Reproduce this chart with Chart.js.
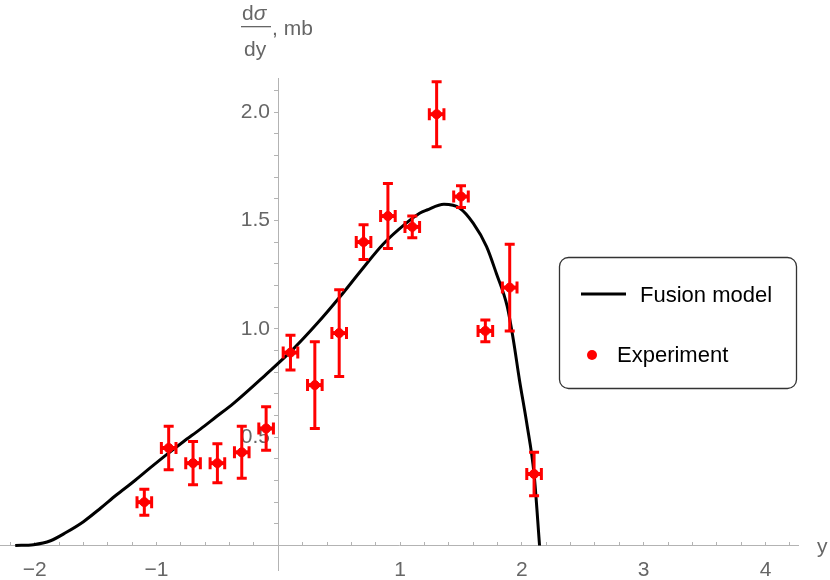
<!DOCTYPE html>
<html>
<head>
<meta charset="utf-8">
<script src="https://cdn.jsdelivr.net/npm/chart.js@4.4.1/dist/chart.umd.min.js"></script>
<style>
  html, body { margin: 0; padding: 0; background: #fff; }
  canvas { display: block; }
</style>
</head>
<body>
<canvas id="chart" width="830" height="580"></canvas>
<script>
// --- DATA ---
// experimental points (bin centres, value, vertical error, horizontal half-width)
const expX   = [-1.1, -0.9, -0.7, -0.5, -0.3, -0.1, 0.1, 0.3, 0.5, 0.7, 0.9, 1.1, 1.3, 1.5, 1.7, 1.9, 2.1];
const expY   = [0.20, 0.45, 0.38, 0.38, 0.43, 0.54, 0.89, 0.74, 0.98, 1.40, 1.52, 1.47, 1.99, 1.61, 0.99, 1.19, 0.33];
const expErr = [0.06, 0.10, 0.10, 0.09, 0.12, 0.10, 0.08, 0.20, 0.20, 0.08, 0.15, 0.05, 0.15, 0.05, 0.05, 0.20, 0.10];
const expXErr = [0.06, 0.06, 0.06, 0.06, 0.06, 0.06, 0.06, 0.06, 0.06, 0.06, 0.06, 0.06, 0.06, 0.06, 0.06, 0.06, 0.06];

// fusion model curve
const modelX = [-2.16, -2.01, -1.87, -1.74, -1.60, -1.46, -1.33, -1.19, -1.05, -0.92, -0.78, -0.64, -0.51, -0.37,
                -0.10, 0.12, 0.32, 0.51, 0.67, 0.86, 1.05, 1.16, 1.22, 1.36, 1.49, 1.60, 1.71, 1.79, 1.88,
                1.93, 1.98, 2.04, 2.10, 2.145];
const modelY = [0.00, 0.004, 0.022, 0.061, 0.110, 0.172, 0.233, 0.294, 0.359, 0.418, 0.479, 0.537, 0.594, 0.655,
                0.79, 0.905, 1.025, 1.15, 1.262, 1.39, 1.487, 1.533, 1.548, 1.574, 1.556, 1.487, 1.379, 1.256, 1.102,
                0.948, 0.764, 0.564, 0.33, 0.00];

// tick labels
const xTickLabels = [-2, -1, 1, 2, 3, 4];
const yTickLabels = [0.5, 1.0, 1.5, 2.0];

const GRAY = "#666666";
const AXIS = "#b3b3b3";
const FONT = "'Liberation Sans', Arial, sans-serif";

function minorTicks(from, to, step) {
    const out = [];
    for (let v = from; v <= to + 1e-9; v += step) out.push({ value: Math.round(v * 100) / 100 });
    return out;
}

// axes sit inside the plot, so they must not eat layout space
function noSpace(scale) {
    if (scale.isHorizontal()) scale.height = 0; else scale.width = 0;
    scale.paddingLeft = scale.paddingRight = scale.paddingTop = scale.paddingBottom = 0;
}

// --- ERROR BARS ---
const errorBars = {
    id: "errorBars",
    afterDatasetsDraw(chart) {
        const ctx = chart.ctx;
        const xs = chart.scales.x, ys = chart.scales.y;
        ctx.save();
        ctx.strokeStyle = "#ff0000";
        expX.forEach((x, i) => {
            const px = xs.getPixelForValue(x);
            const py = ys.getPixelForValue(expY[i]);
            const top = ys.getPixelForValue(expY[i] + expErr[i]);
            const bot = ys.getPixelForValue(expY[i] - expErr[i]);
            const left = xs.getPixelForValue(x - expXErr[i]);
            const right = xs.getPixelForValue(x + expXErr[i]);
            ctx.lineWidth = 3;
            ctx.beginPath();
            ctx.moveTo(px, top); ctx.lineTo(px, bot);
            ctx.moveTo(px - 5, top); ctx.lineTo(px + 5, top);
            ctx.moveTo(px - 5, bot); ctx.lineTo(px + 5, bot);
            ctx.moveTo(left, py - 6); ctx.lineTo(left, py + 6);
            ctx.moveTo(right, py - 6); ctx.lineTo(right, py + 6);
            ctx.stroke();
            ctx.lineWidth = 4;
            ctx.beginPath();
            ctx.moveTo(left, py); ctx.lineTo(right, py);
            ctx.stroke();
        });
        ctx.restore();
    }
};

// --- AXIS TITLES + LEGEND ---
const decorations = {
    id: "decorations",
    afterDraw(chart) {
        const ctx = chart.ctx;
        ctx.save();
        ctx.fillStyle = GRAY;
        ctx.font = "21px " + FONT;
        ctx.textBaseline = "alphabetic";

        // y axis title: dσ/dy, mb
        ctx.textAlign = "left";
        const dW = ctx.measureText("d").width;
        ctx.fillText("d", 242, 20);
        ctx.font = "italic 21px " + FONT;
        ctx.fillText("\u03C3", 242 + dW, 20);
        ctx.font = "21px " + FONT;
        ctx.fillText("dy", 244, 56);
        ctx.fillRect(241, 26, 30, 1.3);
        ctx.fillText(", mb", 272, 35);

        // x axis title
        ctx.fillText("y", 817, 553);

        // legend box
        ctx.strokeStyle = "#333333";
        ctx.lineWidth = 1.3;
        ctx.beginPath();
        ctx.roundRect(559.5, 257.5, 237, 131, 9);
        ctx.stroke();

        const [expSet, modelSet] = chart.data.datasets;
        ctx.strokeStyle = "#000";
        ctx.lineWidth = 3;
        ctx.beginPath();
        ctx.moveTo(581, 294); ctx.lineTo(626, 294);
        ctx.stroke();
        ctx.fillStyle = "#ff0000";
        ctx.beginPath();
        ctx.arc(592, 355, 5, 0, Math.PI * 2);
        ctx.fill();

        ctx.fillStyle = "#000";
        ctx.font = "22px " + FONT;
        ctx.textBaseline = "middle";
        ctx.fillText(modelSet.label, 640, 296);
        ctx.fillText(expSet.label, 617, 356);
        ctx.restore();
    }
};

new Chart(document.getElementById("chart"), {
    type: "scatter",
    data: {
        datasets: [{
            label: "Experiment",
            data: expX.map((x, i) => ({ x: x, y: expY[i] })),
            backgroundColor: "#ff0000",
            borderColor: "#ff0000",
            pointRadius: 4.5,
            pointHoverRadius: 4.5,
            order: 0
        }, {
            label: "Fusion model",
            type: "line",
            data: modelX.map((x, i) => ({ x: x, y: modelY[i] })),
            borderColor: "#000000",
            borderWidth: 3,
            pointRadius: 0,
            fill: false,
            cubicInterpolationMode: "monotone",
            order: 1
        }]
    },
    options: {
        responsive: false,
        animation: false,
        layout: { autoPadding: false, padding: { left: 0, right: 32, top: 78, bottom: 10 } },
        plugins: { legend: { display: false }, tooltip: { enabled: false } },
        scales: {
            x: {
                type: "linear",
                min: -2.285,
                max: 4.267,
                position: { y: 0 },
                afterFit: noSpace,
                afterBuildTicks(scale) { scale.ticks = minorTicks(-2.2, 4.2, 0.2); },
                grid: { drawOnChartArea: false, tickLength: -4, color: AXIS },
                border: { color: AXIS, width: 1 },
                ticks: {
                    autoSkip: false,
                    maxRotation: 0,
                    color: GRAY,
                    font: { family: FONT, size: 21 },
                    padding: 16,
                    callback(v) {
                        return xTickLabels.includes(v) ? String(v).replace("-", "\u2212") : "";
                    }
                }
            },
            y: {
                type: "linear",
                min: -0.113,
                max: 2.157,
                position: { x: 0 },
                z: 1,
                afterFit: noSpace,
                afterBuildTicks(scale) { scale.ticks = minorTicks(0.1, 2.1, 0.1); },
                grid: { drawOnChartArea: false, tickLength: 4, color: AXIS },
                border: { color: AXIS, width: 1 },
                ticks: {
                    autoSkip: false,
                    color: GRAY,
                    font: { family: FONT, size: 21 },
                    padding: 8,
                    callback(v) {
                        return yTickLabels.includes(v) ? v.toFixed(1) + "\u2009\u2009" : "";
                    }
                }
            }
        }
    },
    plugins: [errorBars, decorations]
});
</script>
</body>
</html>
